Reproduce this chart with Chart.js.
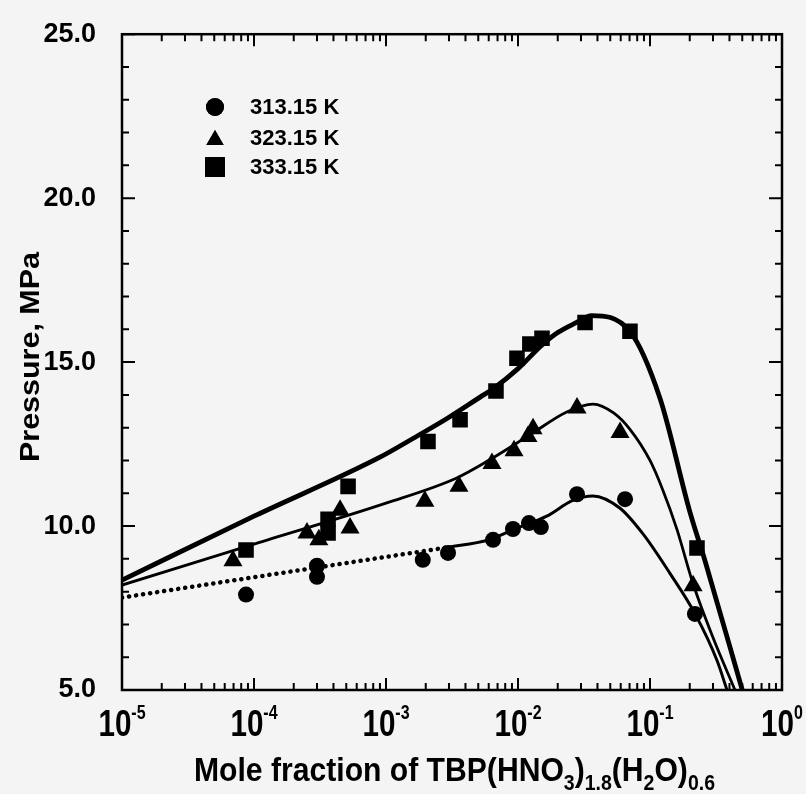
<!DOCTYPE html>
<html>
<head>
<meta charset="utf-8">
<script src="https://cdn.jsdelivr.net/npm/chart.js@4.4.1/dist/chart.umd.min.js"></script>
<style>
    html, body { margin: 0; padding: 0; background: #f4f4f4; }
    canvas { display: block; }
</style>
</head>
<body>
<canvas id="chart" width="806" height="794"></canvas>
<script>
// --- Data ---
const seriesLabels = ['313.15 K', '323.15 K', '333.15 K'];
const markerStyles = ['circle', 'triangle', 'rect'];

// measured points (mole fraction, pressure MPa)
const x313 = [8.7e-5, 3.0e-4, 3.0e-4, 1.9e-3, 2.95e-3, 6.47e-3, 9.16e-3, 1.21e-2, 1.49e-2, 2.8e-2, 6.47e-2, 0.219];
const p313 = [7.91, 8.79, 8.45, 8.97, 9.18, 9.58, 9.91, 10.09, 9.97, 10.97, 10.82, 7.32];

const x323 = [6.93e-5, 2.52e-4, 3.1e-4, 4.49e-4, 5.34e-4, 1.97e-3, 3.57e-3, 6.35e-3, 9.33e-3, 1.19e-2, 1.30e-2, 2.8e-2, 5.93e-2, 0.212];
const p323 = [8.94, 9.79, 9.58, 10.48, 9.94, 10.76, 11.21, 11.91, 12.30, 12.73, 12.97, 13.6, 12.85, 8.18];

const x333 = [8.7e-5, 3.64e-4, 3.64e-4, 5.16e-4, 2.08e-3, 3.64e-3, 6.81e-3, 9.82e-3, 1.23e-2, 1.52e-2, 3.22e-2, 7.05e-2, 0.227];
const p333 = [9.27, 9.79, 10.21, 11.21, 12.58, 13.24, 14.12, 15.12, 15.55, 15.73, 16.21, 15.94, 9.33];

// fitted curves
const fitX313 = [1e-5, 1e-4, 1e-3, 3e-3, 6e-3, 1e-2, 1.65e-2, 2.6e-2, 3.7e-2, 5.9e-2, 8.85e-2, 0.142, 0.219, 0.322, 0.383];
const fitP313 = [7.82, 8.44, 9.06, 9.36, 9.58, 9.95, 10.3, 10.78, 10.92, 10.55, 9.76, 8.55, 7.33, 5.9, 5.0];

const fitX323 = [1e-5, 1e-4, 1e-3, 3.4e-3, 6.1e-3, 1.23e-2, 2.34e-2, 3.7e-2, 5.3e-2, 7.05e-2, 0.1, 0.125, 0.16, 0.212, 0.3, 0.44];
const fitP323 = [8.2, 9.45, 10.7, 11.46, 12.02, 12.78, 13.48, 13.72, 13.45, 12.95, 12.0, 11.1, 9.9, 8.24, 6.6, 5.0];

const fitX333 = [1e-5, 1e-4, 9e-4, 1.6e-3, 2.9e-3, 5.2e-3, 6.5e-3, 1e-2, 1.5e-2, 2e-2, 2.78e-2, 3.6e-2, 7e-2, 0.119, 0.2, 0.261, 0.5];
const fitP333 = [8.35, 10.3, 12.1, 12.67, 13.28, 13.94, 14.19, 14.8, 15.5, 15.9, 16.21, 16.42, 15.95, 13.9, 10.45, 8.94, 5.0];

// where the 313.15 K curve turns from dotted to solid
const dottedUntil313 = 3e-3;

const xTickExponents = [-5, -4, -3, -2, -1, 0];
const yMin = 5, yMax = 25, yMajorStep = 5, yMinorStep = 1;
const yTitle = 'Pressure, MPa';
// [text, isSubscript]
const xTitleParts = [['Mole fraction of TBP(HNO', false], ['3', true], [')', false], ['1.8', true],
    ['(H', false], ['2', true], ['O)', false], ['0.6', true]];

const toPoints = (xs, ys) => xs.map((x, i) => ({ x: x, y: ys[i] }));

const BOLD = "'Liberation Sans', Arial, sans-serif";

// --- Axes, frame and labels drawn around the chart area ---
const framePlugin = {
    id: 'frame',
    beforeDraw(chart) {
        const ctx = chart.ctx;
        ctx.save();
        ctx.fillStyle = '#f4f4f4';
        ctx.fillRect(0, 0, chart.width, chart.height);
        ctx.restore();
    },
    afterDraw(chart) {
        const ctx = chart.ctx;
        const a = chart.chartArea;
        const xs = chart.scales.x;
        const ys = chart.scales.y;
        ctx.save();
        ctx.strokeStyle = '#000';
        ctx.fillStyle = '#000';

        // inward ticks on all four sides
        ctx.lineWidth = 2;
        ctx.beginPath();
        for (let e = xTickExponents[0]; e < xTickExponents[xTickExponents.length - 1]; e++) {
            for (let m = 1; m <= 9; m++) {
                const px = xs.getPixelForValue(m * Math.pow(10, e));
                const len = m === 1 ? 12 : 7;
                ctx.moveTo(px, a.bottom); ctx.lineTo(px, a.bottom - len);
                ctx.moveTo(px, a.top); ctx.lineTo(px, a.top + len);
            }
        }
        for (let v = yMin; v <= yMax; v += yMinorStep) {
            const py = ys.getPixelForValue(v);
            const len = v % yMajorStep === 0 ? 13 : 7;
            ctx.moveTo(a.left, py); ctx.lineTo(a.left + len, py);
            ctx.moveTo(a.right, py); ctx.lineTo(a.right - len, py);
        }
        ctx.stroke();

        // frame
        ctx.lineWidth = 2.5;
        ctx.strokeRect(a.left, a.top, a.right - a.left, a.bottom - a.top);

        // x tick labels 10^n
        xTickExponents.forEach(e => {
            const px = xs.getPixelForValue(Math.pow(10, e));
            const base = '10';
            const sup = String(e);
            ctx.font = 'bold 37px ' + BOLD;
            const wb = ctx.measureText(base).width * 0.8;
            ctx.font = 'bold 20px ' + BOLD;
            const ws = ctx.measureText(sup).width * 0.8;
            const left = px - (wb + ws) / 2;
            ctx.save();
            ctx.translate(left, 0);
            ctx.scale(0.8, 1);
            ctx.textAlign = 'left';
            ctx.textBaseline = 'alphabetic';
            ctx.font = 'bold 37px ' + BOLD;
            ctx.fillText(base, 0, 736);
            ctx.font = 'bold 20px ' + BOLD;
            ctx.fillText(sup, wb / 0.8, 719);
            ctx.restore();
        });

        // x axis title with subscripts, squeezed to the width in the figure
        const mainFont = 'bold 34px ' + BOLD;
        const subFont = 'bold 22px ' + BOLD;
        let natural = 0;
        xTitleParts.forEach(([t, sub]) => {
            ctx.font = sub ? subFont : mainFont;
            natural += ctx.measureText(t).width;
        });
        const targetW = 521;
        const sx = targetW / natural;
        ctx.save();
        ctx.translate(194, 0);
        ctx.scale(sx, 1);
        ctx.textAlign = 'left';
        ctx.textBaseline = 'alphabetic';
        let cx = 0;
        xTitleParts.forEach(([t, sub]) => {
            ctx.font = sub ? subFont : mainFont;
            ctx.fillText(t, cx, sub ? 790 : 781);
            cx += ctx.measureText(t).width;
        });
        ctx.restore();

        // y axis title
        ctx.save();
        ctx.translate(31, 357);
        ctx.rotate(-Math.PI / 2);
        ctx.font = 'bold 28px ' + BOLD;
        const wy = ctx.measureText(yTitle).width;
        const syt = 210 / wy;
        ctx.scale(syt, 1);
        ctx.textAlign = 'center';
        ctx.textBaseline = 'middle';
        ctx.fillText(yTitle, 0, 0);
        ctx.restore();

        // legend
        const legendY = [107, 138, 167];
        const legendR = [9, 10, 14];
        seriesLabels.forEach((label, i) => {
            Chart.helpers.drawPoint(ctx, { pointStyle: markerStyles[i], radius: legendR[i], rotation: 0, borderWidth: 0 },
                215, legendY[i] + (markerStyles[i] === 'triangle' ? 2 : 0));
            ctx.fill();
            ctx.font = 'bold 22px ' + BOLD;
            ctx.textAlign = 'left';
            ctx.textBaseline = 'middle';
            ctx.fillText(label, 250, legendY[i] + 1);
        });
        ctx.restore();
    }
};

const markerRadius = [8, 11, 11];
const markerSets = [[x313, p313], [x323, p323], [x333, p333]];

const datasets = markerSets.map(([xs, ps], i) => ({
    label: seriesLabels[i],
    data: toPoints(xs, ps),
    pointStyle: markerStyles[i],
    pointRadius: markerRadius[i],
    pointBackgroundColor: '#000',
    pointBorderColor: '#000',
    pointBorderWidth: 0,
    showLine: false
}));

datasets.push({
    label: 'fit 333.15 K',
    data: toPoints(fitX333, fitP333),
    showLine: true,
    pointRadius: 0,
    borderColor: '#000',
    borderWidth: 4.8,
    cubicInterpolationMode: 'monotone'
});
datasets.push({
    label: 'fit 323.15 K',
    data: toPoints(fitX323, fitP323),
    showLine: true,
    pointRadius: 0,
    borderColor: '#000',
    borderWidth: 2.8,
    cubicInterpolationMode: 'monotone'
});
datasets.push({
    label: 'fit 313.15 K',
    data: toPoints(fitX313, fitP313),
    showLine: true,
    pointRadius: 0,
    borderColor: '#000',
    borderWidth: 3,
    borderCapStyle: 'round',
    cubicInterpolationMode: 'monotone',
    segment: {
        borderDash: ctx => ctx.p1.parsed.x <= dottedUntil313 ? [0.1, 7] : undefined,
        borderWidth: ctx => ctx.p1.parsed.x <= dottedUntil313 ? 4.5 : 3
    }
});

new Chart(document.getElementById('chart'), {
    type: 'scatter',
    data: { datasets: datasets },
    options: {
        responsive: false,
        animation: false,
        devicePixelRatio: 1,
        layout: { padding: { left: 0, right: 24, top: 29, bottom: 0 } },
        plugins: { legend: { display: false }, tooltip: { enabled: false } },
        scales: {
            x: {
                type: 'logarithmic',
                min: 1e-5,
                max: 1,
                grid: { display: false },
                border: { display: false },
                ticks: { display: false },
                afterFit: s => { s.height = 104; }
            },
            y: {
                min: yMin,
                max: yMax,
                grid: { display: false },
                border: { display: false },
                ticks: {
                    stepSize: yMajorStep,
                    color: '#000',
                    padding: 18,
                    font: { family: BOLD, size: 27, weight: 'bold' },
                    callback: v => v.toFixed(1)
                },
                afterFit: s => { s.width = 122; }
            }
        }
    },
    plugins: [framePlugin]
});
</script>
</body>
</html>
